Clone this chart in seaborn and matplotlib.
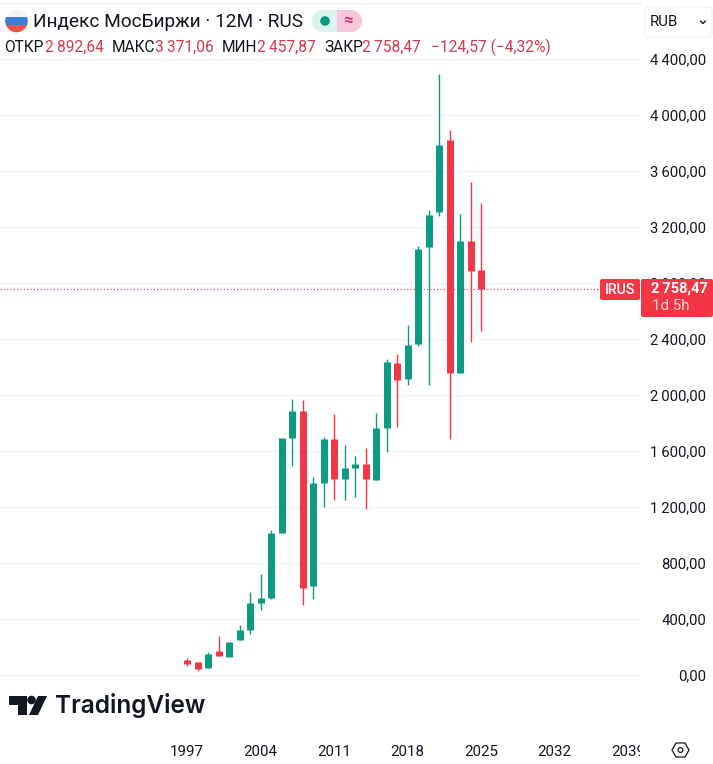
"""
MOEX Russia index yearly candles, laid out like a TradingView chart window.
"""

import pandas as pd
import matplotlib.pyplot as plt
import seaborn as sns
from matplotlib.patches import Circle, FancyBboxPatch, Polygon, Rectangle, Wedge
from matplotlib.transforms import Bbox

# Candle values
years = [1997, 1998, 1999, 2000, 2001, 2002, 2003, 2004, 2005, 2006, 2007, 2008, 2009, 2010, 2011,
         2012, 2013, 2014, 2015, 2016, 2017, 2018, 2019, 2020, 2021, 2022, 2023, 2024, 2025]
opens = [105, 95, 48, 174, 131, 248, 319, 512, 548, 1014, 1690, 1888, 633, 1369, 1688,
         1398, 1476, 1510, 1390, 1762, 2231, 2112, 2367, 3055, 3305, 3824, 2155, 3102, 2892.64]
highs = [119, 95, 167, 281, 238, 360, 595, 719, 1033, 1695, 1971, 1964, 1417, 1700, 1864,
         1645, 1567, 1624, 1871, 2260, 2295, 2500, 3062, 3324, 4295, 3895, 3290, 3524, 3371.06]
lows = [64, 26, 48, 138, 131, 248, 295, 467, 543, 1014, 1490, 498, 540, 1198, 1248,
        1248, 1274, 1188, 1390, 1590, 1774, 2069, 2352, 2074, 3276, 1683, 2155, 2376, 2457.87]
closes = [81, 40, 150, 138, 238, 321, 517, 552, 1017, 1695, 1888, 619, 1371, 1688, 1398,
          1481, 1510, 1398, 1767, 2238, 2105, 2360, 3043, 3288, 3788, 2155, 3102, 2883, 2758.47]

price_ticks = [0, 400, 800, 1200, 1600, 2000, 2400, 2800, 3200, 3600, 4000, 4400]
price_labels = ['0,00', '400,00', '800,00', '1\u2009200,00', '1\u2009600,00', '2\u2009000,00',
                '2\u2009400,00', '2\u2009800,00', '3\u2009200,00', '3\u2009600,00', '4\u2009000,00',
                '4\u2009400,00']
year_ticks = [1997, 2004, 2011, 2018, 2025, 2032, 2039]
last_price = 2758.47

GREEN = '#0B9A82'
RED = '#F23645'
INK = '#131722'
GRID = '#F0F3FA'

sns.set_theme(style='white')
plt.rcParams['font.family'] = ['Roboto', 'DejaVu Sans']

W, H = 713, 764
fig = plt.figure(figsize=(W / 100, H / 100), dpi=100)

# Price pane: 0-640 px wide, 3-742 px down, scaled 10.5 px per year and 0.14 px per point
ax = fig.add_axes([0, (H - 742) / H, 640 / W, 739 / H])
ax.set_xlim(1997 - 187 / 10.5, 1997 + 453 / 10.5)
ax.set_ylim((675 - 742) / 0.14, (675 - 3) / 0.14)

candles = pd.DataFrame({'year': years, 'open': opens, 'high': highs, 'low': lows, 'close': closes})
candles['side'] = ['up' if c >= o else 'down' for o, c in zip(opens, closes)]
wicks = candles.melt(id_vars=['year', 'side'], value_vars=['low', 'high'], value_name='price')
bodies = candles.melt(id_vars=['year', 'side'], value_vars=['open', 'close'], value_name='price')
palette = {'up': GREEN, 'down': RED}

ax.axhline(last_price, color=RED, lw=0.8, ls=(0, (1, 2)), zorder=1)
sns.lineplot(data=wicks, x='year', y='price', hue='side', units='year', estimator=None, sort=False,
             palette=palette, linewidth=1.0, legend=False, solid_capstyle='butt', ax=ax, zorder=3)
sns.lineplot(data=bodies, x='year', y='price', hue='side', units='year', estimator=None, sort=False,
             palette=palette, linewidth=5.0, legend=False, solid_capstyle='butt', ax=ax, zorder=4)

ax.set_xlabel('')
ax.set_ylabel('')
ax.yaxis.tick_right()
ax.set_yticks(price_ticks)
ax.set_yticklabels(price_labels)
ax.set_xticks(year_ticks)
ax.set_xticklabels([str(y) for y in year_ticks])
ax.tick_params(axis='y', length=0, pad=47.5, labelsize=10.7, labelcolor=INK)
ax.tick_params(axis='x', length=0, pad=2, labelsize=10.8, labelcolor=INK)
for label in ax.get_yticklabels():
    label.set_ha('right')
# last year label runs under the settings corner
for label in ax.get_xticklabels():
    label.set_clip_box(Bbox([[0, 0], [640, H]]))
    label.set_clip_on(True)
ax.grid(True, axis='y', color=GRID, lw=0.8)
ax.set_axisbelow(True)
for name, spine in ax.spines.items():
    spine.set_visible(name == 'top')
    spine.set_color(GRID)
    spine.set_linewidth(0.8)

# Window furniture, placed in pixels on a transparent overlay
ui = fig.add_axes([0, 0, 1, 1])
ui.set_xlim(0, W)
ui.set_ylim(H, 0)
ui.axis('off')
ui.patch.set_alpha(0)

# Flag
flag = Circle((16.5, 21), 11.3, transform=ui.transData)
for top, color in zip([9, 17, 25], ['#F3F4F6', '#3D7FD6', '#E9554C']):
    stripe = Rectangle((5, top), 24, 8.5, color=color, lw=0)
    ui.add_patch(stripe)
    stripe.set_clip_path(flag)

ui.text(33, 22, 'Индекс МосБиржи · 12M · RUS', fontsize=13.7, color=INK, va='center', ha='left')

# Status pill
ui.add_patch(Wedge((323, 21), 11, 90, 270, fc='#DDF1ED', lw=0))
ui.add_patch(Rectangle((323, 10), 14, 22, fc='#DDF1ED', lw=0))
ui.add_patch(Rectangle((337, 10), 14, 22, fc='#F7C6DA', lw=0))
ui.add_patch(Wedge((351, 21), 11, 270, 90, fc='#F7C6DA', lw=0))
ui.add_patch(Circle((325, 21), 4.8, fc=GREEN, lw=0))
ui.text(348, 20.5, '≈', fontsize=12, color='#E0316E', va='center', ha='center', fontweight='bold')

# OHLC row
for x, word in zip([4, 112, 222, 324], ['ОТКР', 'МАКС', 'МИН', 'ЗАКР']):
    ui.text(x, 47, word, fontsize=11.2, color=INK, va='center', ha='left')
for x, word in zip([45, 155, 257, 362, 431],
                   ['2\u2009892,64', '3\u2009371,06', '2\u2009457,87', '2\u2009758,47', '−124,57 (−4,32%)']):
    ui.text(x, 47, word, fontsize=11.2, color='#D5384D', va='center', ha='left')

# Currency box
ui.add_patch(FancyBboxPatch((645, 7), 67, 30, boxstyle='round,pad=0,rounding_size=4', fc='white', ec='#EDEFF4', lw=0.8))
ui.text(650, 22.5, 'RUB', fontsize=10.8, color=INK, va='center', ha='left')
ui.plot([700.5, 703, 705.5], [21, 23.5, 21], color=INK, lw=1)

# Price tag
ui.add_patch(FancyBboxPatch((600, 279), 40, 21, boxstyle='round,pad=0,rounding_size=2', fc=RED, lw=0))
ui.add_patch(FancyBboxPatch((641, 279), 72, 38, boxstyle='round,pad=0,rounding_size=2', fc=RED, lw=0))
ui.text(620, 290, 'IRUS', fontsize=10.2, color='white', va='center', ha='center', fontweight='medium')
ui.text(651, 288.5, '2\u2009758,47', fontsize=10.5, color='white', va='center', ha='left', fontweight='bold')
ui.text(652, 306, '1d 5h', fontsize=10.8, color='#FBD5DA', va='center', ha='left')

# TradingView mark and name
ui.add_patch(Polygon([(9, 696), (27, 696), (27, 715), (18, 715), (18, 705), (9, 705)], fc=INK, lw=0))
ui.add_patch(Circle((31.5, 700), 4.3, fc=INK, lw=0))
ui.add_patch(Polygon([(38, 696), (47, 696), (38, 715), (29, 715)], fc=INK, lw=0))
ui.text(55, 705, 'TradingView', fontsize=17.6, color=INK, va='center', ha='left', fontfamily='Inter', fontweight='semibold')

# Settings hexagon
ui.add_patch(Polygon([(672, 750), (676, 743), (685, 743), (689, 750), (685, 757), (676, 757)], fc='white', ec=INK, lw=0.9))
ui.add_patch(Circle((680.5, 750), 2.4, fc='white', ec=INK, lw=0.9))

plt.savefig('out.png', dpi=100)
plt.close()
